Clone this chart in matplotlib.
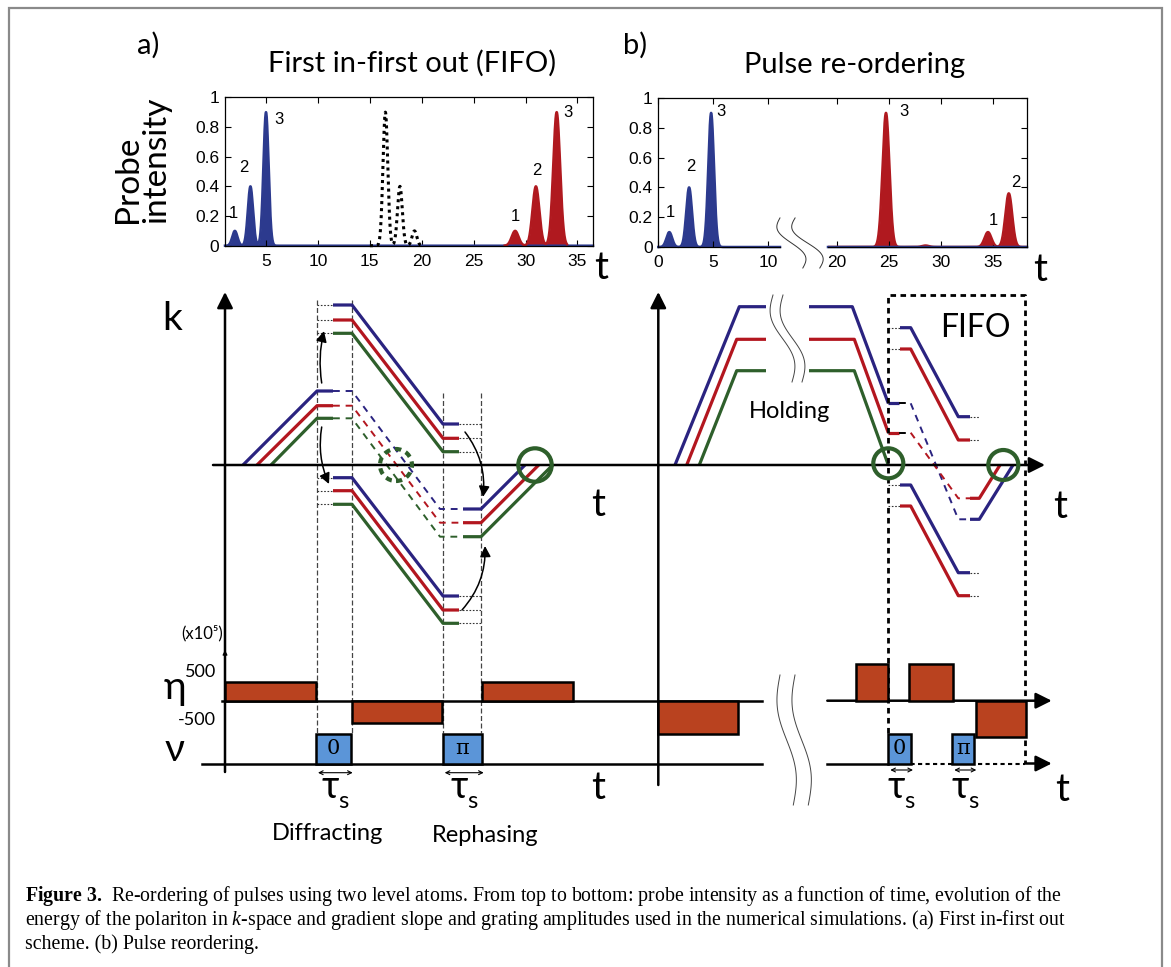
import numpy as np
import matplotlib
matplotlib.use("Agg")
import matplotlib.pyplot as plt
from matplotlib.patches import Rectangle, Circle

plt.rcParams["font.family"] = ["Lato", "DejaVu Sans"]
plt.rcParams["mathtext.fontset"] = "custom"
plt.rcParams["mathtext.rm"] = "Liberation Serif"
plt.rcParams["mathtext.it"] = "Liberation Serif:italic"
plt.rcParams["mathtext.bf"] = "Liberation Serif:bold"

# colours
NAVY = "#2a2380"
CRIMSON = "#b3161f"
FOREST = "#2e5f2b"
FILL_BLUE = "#2c3a8e"
FILL_RED = "#b0191f"
ETA_C = "#b9421f"
NU_C = "#5b95d8"
LINE_COLS = [NAVY, CRIMSON, FOREST]

# ---------------- probe intensity, panel a (FIFO)
a_in_t = [2.0, 3.5, 5.0]
a_in_h = [0.1, 0.4, 0.9]
a_store_t = [16.5, 17.9, 19.3]
a_store_h = [0.9, 0.4, 0.1]
a_out_t = [29.0, 31.0, 33.0]
a_out_h = [0.1, 0.4, 0.9]
pulse_labels = ["1", "2", "3"]
a_in_lab_xy = [(1.85, 0.22), (2.9, 0.53), (6.2, 0.85)]
a_out_lab_xy = [(29.0, 0.2), (31.1, 0.51), (34.1, 0.9)]

# ---------------- probe intensity, panel b (re-ordering)
b_in_t = [1.0, 2.8, 4.8]
b_in_h = [0.1, 0.4, 0.9]
b_out_t = [24.7, 28.5, 34.5, 36.5]
b_out_h = [0.9, 0.01, 0.1, 0.36]
b_in_lab_xy = [(1.1, 0.23), (3.0, 0.54), (5.7, 0.91)]
b_out_lab = ["3", "1", "2"]
b_out_lab_xy = [(26.4, 0.91), (35.0, 0.18), (37.2, 0.43)]

y_ticks = [0, 0.2, 0.4, 0.6, 0.8, 1]
y_tick_labels = ["0", "0.2", "0.4", "0.6", "0.8", "1"]

# ---------------- k-space diagram, FIFO side (blue, red, green)
L_start = [1.8, 3.2, 4.6]
L_store = [7.4, 5.93, 4.67]
L_up = [16.0, 14.5, 13.17]
L_up_end = [4.1, 2.67, 1.33]
L_dn = [-1.27, -2.57, -3.93]
L_dn_end = [-13.1, -14.5, -15.83]
L_back = [-4.4, -5.77, -7.17]
L_zero = [30.0, 31.37, 32.77]
L_gates = [9.2, 12.7, 21.8, 25.6]

# ---------------- k-space diagram, re-ordering side
R_start = [45.0, 46.17, 47.43]
R_hold = [15.83, 12.57, 9.43]
R_ramp_end = [51.43, 51.17, 51.17]
R_release = [62.73, 62.93, 62.93]
R_fall = [6.17, 3.23, 0.0]
R_break = [54.1, 58.4]
F_up = [13.73, 11.6]
F_up_end = [4.83, 2.5]
F_dn = [-2.0, -4.1]
F_dn_end = [-10.77, -13.07]
F_back = [-5.43, -3.33]
F_zero = [78.8, 77.5]
F_times = [66.33, 67.5, 68.57, 73.33, 74.5, 75.43]
FIFO_box = [66.33, 80.0, 17.0]

# ---------------- gradient (eta, x1e5) and grating (nu)
eta_t0 = [0.0, 12.67, 25.67, 43.33, 63.1, 68.43, 75.07]
eta_t1 = [9.1, 21.67, 34.77, 51.27, 66.33, 72.83, 80.07]
eta_amp = [460, -550, 460, -840, 910, 910, -900]
nu_t0 = [9.1, 21.77, 66.33, 72.73]
nu_t1 = [12.57, 25.67, 68.6, 74.93]
nu_phase = ["0", "π", "0", "π"]

W, H = 1171, 967
fig = plt.figure(figsize=(W / 100, H / 100), dpi=100)


def px_axes(x0, y0, x1, y1):
    return fig.add_axes([x0 / W, 1 - y1 / H, (x1 - x0) / W, (y1 - y0) / H])


def pulses(t, centres, heights, width):
    y = np.zeros_like(t)
    for c, h in zip(centres, heights):
        y += h * np.exp(-0.5 * ((t - c) / width) ** 2)
    return y


def probe_style(ax):
    ax.tick_params(direction="in", length=4, width=0.8, top=True, right=True,
                   labelsize=12.5, labelfontfamily="Liberation Sans")
    ax.tick_params(axis="x", pad=6)
    ax.tick_params(axis="y", pad=4)
    for s in ax.spines.values():
        s.set_linewidth(0.9)
    ax.set_ylim(0, 1)


# ===== panel a
ax_a = px_axes(225, 97.3, 593, 245.7)
t = np.linspace(1.05, 36.5, 3000)
yb = pulses(t, a_in_t, a_in_h, 0.25)
ax_a.fill_between(t, 0, yb, color=FILL_BLUE, lw=0)
ax_a.plot(t, yb, color=FILL_BLUE, lw=1.8, clip_on=False)
tm = t[(t > 15) & (t < 20)]
ax_a.plot(tm, pulses(tm, a_store_t, a_store_h, 0.23), color="k", lw=2.2,
          ls=(0, (1, 1.3)), clip_on=False)
tr = t[(t > 28) & (t < 34)]
yr = pulses(tr, a_out_t, a_out_h, 0.33)
ax_a.fill_between(tr, 0, yr, color=FILL_RED, lw=0)
ax_a.plot(tr, yr, color=FILL_RED, lw=1.8, clip_on=False)
for lab, (x, y) in zip(pulse_labels * 2, a_in_lab_xy + a_out_lab_xy):
    ax_a.text(x, y, lab, fontsize=12, family="Liberation Sans", ha="center", va="center")
ax_a.set_xlim(1.05, 36.5)
ax_a.set_xticks([5, 10, 15, 20, 25, 30, 35])
ax_a.set_yticks(y_ticks, y_tick_labels)
probe_style(ax_a)

# ===== panel b (broken time axis)
bg = px_axes(658.3, 98, 1027, 247)
bg.set_xlim(0, 1)
bg.set_ylim(0, 1)
bg.set_xticks([])
bg.set_yticks([])
for side in ["left", "right", "bottom"]:
    bg.spines[side].set_visible(False)
bg.spines["top"].set_linewidth(0.9)
bg.patch.set_alpha(0)
s = np.linspace(0, 1, 100)
for x0, x1 in [(0.330, 0.392), (0.371, 0.438)]:
    bg.plot(x0 + (x1 - x0) * s - 0.35 * (x1 - x0) * np.sin(2 * np.pi * s),
            0.195 - 0.336 * s, color="#333333", lw=0.7, clip_on=False)

ax_b1 = px_axes(658.3, 98, 780, 247)
ax_b2 = px_axes(828, 98, 1027, 247)
for ax in (ax_b1, ax_b2):
    ax.patch.set_alpha(0)
t1 = np.linspace(0, 11.06, 1500)
y1 = pulses(t1, b_in_t, b_in_h, 0.26)
ax_b1.fill_between(t1, 0, y1, color=FILL_BLUE, lw=0)
ax_b1.plot(t1, y1, color=FILL_BLUE, lw=1.8, clip_on=False)
for lab, (x, y) in zip(pulse_labels, b_in_lab_xy):
    ax_b1.text(x, y, lab, fontsize=12, family="Liberation Sans", ha="center", va="center")
ax_b1.set_xlim(0, 11.06)
ax_b1.set_xticks([0, 5, 10])
ax_b1.set_yticks(y_ticks, y_tick_labels)
probe_style(ax_b1)
ax_b1.tick_params(right=False)
ax_b1.spines["right"].set_visible(False)
ax_b1.spines["top"].set_visible(False)

t2 = np.linspace(19.13, 38.25, 2500)
y2 = pulses(t2, b_out_t, b_out_h, 0.33)
ax_b2.fill_between(t2, 0, y2, color=FILL_RED, lw=0)
ax_b2.plot(t2, y2, color=FILL_RED, lw=1.8)
ax_b2.plot(t2, np.zeros_like(t2), color=FILL_BLUE, lw=1.8, clip_on=False)
for lab, (x, y) in zip(b_out_lab, b_out_lab_xy):
    ax_b2.text(x, y, lab, fontsize=12, family="Liberation Sans", ha="center", va="center")
ax_b2.set_xlim(19.13, 38.25)
ax_b2.set_xticks([20, 25, 30, 35])
ax_b2.set_yticks(y_ticks, [])
probe_style(ax_b2)
ax_b2.tick_params(left=False)
ax_b2.spines["left"].set_visible(False)
ax_b2.spines["top"].set_visible(False)

# titles / panel letters
fig.text(148 / W, 1 - 45 / H, "a)", fontsize=21, ha="center", va="center")
fig.text(412 / W, 1 - 63 / H, "First in-first out (FIFO)", fontsize=21, ha="center", va="center")
fig.text(635 / W, 1 - 45 / H, "b)", fontsize=21, ha="center", va="center")
fig.text(855 / W, 1 - 65 / H, "Pulse re-ordering", fontsize=21, ha="center", va="center")
fig.text(142 / W, 1 - 223 / H, "Probe\nintensity", fontsize=24, rotation=90,
         ha="center", va="bottom", multialignment="left", linespacing=0.95)
fig.text(601 / W, 1 - 268 / H, "t", fontsize=28, ha="center", va="center")
fig.text(1040 / W, 1 - 270 / H, "t", fontsize=28, ha="center", va="center")

# ===== schematic (1 unit = 10 px)
ax = px_axes(0, 280, 1171, 860)
ax.set_xlim(-22.5, 94.6)
ax.set_ylim(-39.5, 18.5)
ax.axis("off")

SOLID = dict(lw=2.3, solid_capstyle="butt")
DASH = dict(lw=1.4, ls=(0, (3.5, 3)))
DOT = dict(lw=0.8, ls=(0, (1.5, 1.5)), color="#333333")
VDASH = dict(lw=0.9, ls=(0, (4, 2)), color="#444444")


def arrow(p0, p1, lw=1.8, ms=24, rad=0.0, style="-|>"):
    ax.annotate("", xy=p1, xytext=p0,
                arrowprops=dict(arrowstyle=style, lw=lw, color="k", mutation_scale=ms,
                                shrinkA=0, shrinkB=0, connectionstyle=f"arc3,rad={rad}"))


# axes of the k diagram
arrow((0, -30.7), (0, 17.3))
arrow((43.33, -32.0), (43.33, 17.3))
arrow((-1.2, 0), (82.0, 0))
arrow((0, -19.6), (0, -18.5), lw=0.8, ms=7)

# gate lines
g1a, g1b, g2a, g2b = L_gates
for tg in (g1a, g1b):
    ax.plot([tg, tg], [16.5, -26.8], **VDASH)
for tg in (g2a, g2b):
    ax.plot([tg, tg], [7.2, -26.8], **VDASH)

for i, c in enumerate(LINE_COLS):
    ax.plot([L_start[i], g1a, g1a + 1.6], [0, L_store[i], L_store[i]], color=c, **SOLID)
    ax.plot([g1a + 1.6, g1b, g2a - 0.3, g2a + 2.0], [L_store[i], L_store[i], L_back[i], L_back[i]],
            color=c, **DASH)
    ax.plot([g2a + 2.0, g2b, L_zero[i]], [L_back[i], L_back[i], 0], color=c, **SOLID)
    for k0, k1 in [(L_up[i], L_up_end[i]), (L_dn[i], L_dn_end[i])]:
        ax.plot([g1a, g1a + 1.6], [k0, k0], **DOT)
        ax.plot([g1a + 1.6, g1b, g2a, g2a + 1.6], [k0, k0, k1, k1], color=c, **SOLID)
        ax.plot([g2a + 1.6, g2b], [k1, k1], **DOT)

ax.add_patch(Circle((31.0, 0), 1.67, fill=False, ec=FOREST, lw=3, zorder=5))
ax.add_patch(Circle((17.1, 0), 1.6, fill=False, ec=FOREST, lw=3, ls=(0, (1.5, 1.2)), zorder=5))

arrow((9.67, 8.2), (9.9, 13.4), lw=1.1, ms=16, rad=-0.1)
arrow((9.67, 3.8), (10.4, -1.9), lw=1.1, ms=16, rad=0.15)
arrow((24.0, 3.3), (25.8, -3.2), lw=1.1, ms=16, rad=-0.2)
arrow((23.7, -14.5), (26.0, -8.1), lw=1.1, ms=16, rad=0.2)

# re-ordering side
for i, c in enumerate(LINE_COLS):
    ax.plot([R_start[i], R_ramp_end[i], R_break[0]], [0, R_hold[i], R_hold[i]], color=c, **SOLID)
    ax.plot([R_break[1], R_release[i], F_times[0]], [R_hold[i], R_hold[i], R_fall[i]], color=c, **SOLID)

f0, f1, f2, f3, f4, f5 = F_times
for i, c in enumerate(LINE_COLS[:2]):
    ax.plot([f0, f0 + 1.1], [R_fall[i], R_fall[i]], color=c, **SOLID)
    ax.plot([f0 + 1.1, f2], [R_fall[i], R_fall[i]], color="k", **DASH)
    ax.plot([f2, f3, f4], [R_fall[i], F_back[i], F_back[i]], color=c, **DASH)
    ax.plot([f4, f5, F_zero[i]], [F_back[i], F_back[i], 0], color=c, **SOLID)
    for k0, k1 in [(F_up[i], F_up_end[i]), (F_dn[i], F_dn_end[i])]:
        ax.plot([f0, f1], [k0, k0], **DOT)
        ax.plot([f1, f2, f3, f4], [k0, k0, k1, k1], color=c, **SOLID)
        ax.plot([f4, f5], [k1, k1], **DOT)

ax.add_patch(Circle((66.33, 0.17), 1.5, fill=False, ec=FOREST, lw=3, zorder=5))
ax.add_patch(Circle((77.83, 0), 1.5, fill=False, ec=FOREST, lw=3, zorder=5))

bx0, bx1, btop = FIFO_box
ax.plot([bx0, bx0, bx1, bx1], [-26.8, btop, btop, -29.8], color="k", lw=2.0, ls=(0, (2, 1.6)))

s = np.linspace(0, 1, 100)
for x0 in (54.8, 55.8):
    ax.plot(x0 + 1.9 * s - 0.7 * np.sin(2 * np.pi * s), 17.0 - 8.7 * s, color="#444444", lw=0.7)
for x0 in (55.5, 57.0):
    ax.plot(x0 + 1.33 * s - 0.6 * np.sin(2 * np.pi * s), -21.0 - 13.0 * s, color="#444444", lw=0.7)

# gradient / grating axes
ETA0, NU0 = -23.57, -29.85
ax.plot([-0.3, 53.7], [ETA0, ETA0], color="k", lw=1.8)
arrow((60.23, ETA0), (82.67, ETA0))
ax.plot([-2.33, 53.7], [NU0, NU0], color="k", lw=1.8)
ax.plot([60.23, bx0], [NU0, NU0], color="k", lw=1.8)
ax.plot([bx0, bx1], [NU0, NU0], color="k", lw=1.5, ls=(0, (2, 1.6)))
arrow((bx1, NU0), (82.67, NU0))

ETA_SCALE = 0.004
for a0, a1, amp in zip(eta_t0, eta_t1, eta_amp):
    ax.add_patch(Rectangle((a0, ETA0), a1 - a0, amp * ETA_SCALE, fc=ETA_C, ec="k", lw=1.8, zorder=3))
for a0, a1, ph in zip(nu_t0, nu_t1, nu_phase):
    ax.add_patch(Rectangle((a0, NU0), a1 - a0, 2.93, fc=NU_C, ec="k", lw=1.8, zorder=3))
    ax.text((a0 + a1) / 2, NU0 + 1.45, ph, fontsize=15, family="DejaVu Serif",
            ha="center", va="center", zorder=4)

for a0, a1 in zip(nu_t0, nu_t1):
    y = -30.77 if a0 < 40 else -30.5
    arrow((a0 + 0.2, y), (a1 + 0.2, y), lw=0.8, ms=7, style="<->")
    ax.text((a0 + a1) / 2 - 0.3, -32.2, "τ", fontsize=27, ha="center", va="center")
    ax.text((a0 + a1) / 2 + 1.0, -33.6, "s", fontsize=17, ha="center", va="center")

ax.text(10.3, -36.8, "Diffracting", fontsize=17, ha="center", va="center")
ax.text(26.0, -37.0, "Rephasing", fontsize=17, ha="center", va="center")
ax.text(-5.3, 14.6, "k", fontsize=28, ha="center", va="center")
ax.text(37.3, -4.0, "t", fontsize=28, ha="center", va="center")
ax.text(83.5, -4.2, "t", fontsize=28, ha="center", va="center")
ax.text(37.3, -32.3, "t", fontsize=28, ha="center", va="center")
ax.text(83.7, -32.5, "t", fontsize=28, ha="center", va="center")
ax.text(75.0, 13.7, "FIFO", fontsize=23, ha="center", va="center")
ax.text(56.5, 5.3, "Holding", fontsize=17, ha="center", va="center")
ax.text(-5.0, -22.3, "η", fontsize=28, ha="center", va="center")
ax.text(-5.0, -28.5, "ν", fontsize=28, ha="center", va="center")
ax.text(-0.9, -20.7, "500", fontsize=13, ha="right", va="center")
ax.text(-0.9, -25.5, "-500", fontsize=13, ha="right", va="center")
ax.text(-0.2, -16.8, "(x10⁵)", fontsize=12, ha="right", va="center")

# frame and caption
fig.add_artist(Rectangle((8.5 / W, -0.05), 1153.5 / W, 1.05 - 7.5 / H, transform=fig.transFigure,
                         fill=False, ec="#8a8a8a", lw=1.6))
cap = [
    r"$\mathbf{Figure\ 3.}\/$ Re-ordering of pulses using two level atoms. From top to bottom: probe intensity as a function of time, evolution of the",
    r"energy of the polariton in $k$-space and gradient slope and grating amplitudes used in the numerical simulations. (a) First in-first out",
    r"scheme. (b) Pulse reordering.",
]
for j, line in enumerate(cap):
    fig.text(25 / W, 1 - (896 + 24 * j) / H, line, fontsize=14.3, family="Liberation Serif",
             ha="left", va="center")

fig.savefig("out.png", dpi=100)
